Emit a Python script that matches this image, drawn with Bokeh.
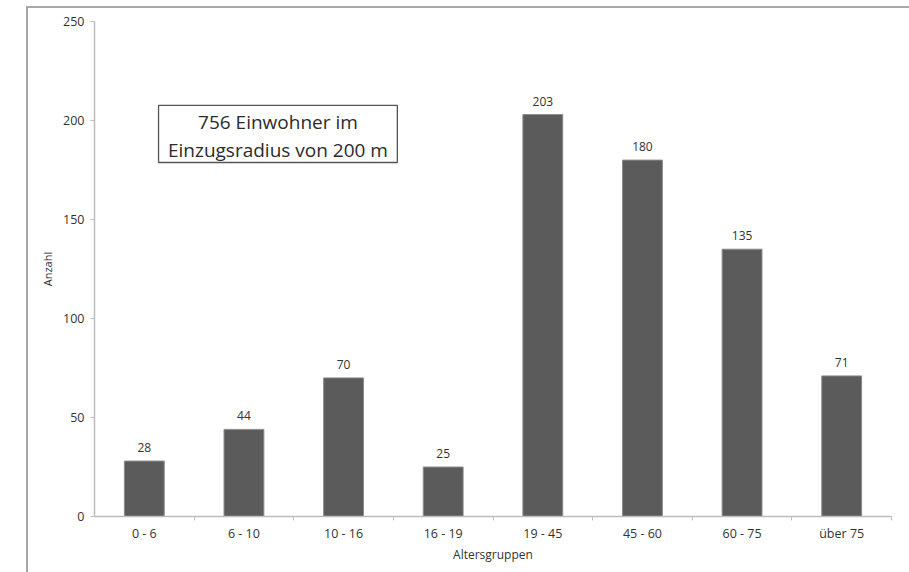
from bokeh.plotting import figure
from bokeh.models import (Range1d, FixedTicker, ColumnDataSource, BoxAnnotation, Label)
from bokeh.core.properties import value
from bokeh.embed import file_html
from bokeh.resources import INLINE

categories = ["0 - 6", "6 - 10", "10 - 16", "16 - 19", "19 - 45", "45 - 60", "60 - 75", "über 75"]
counts = [28, 44, 70, 25, 203, 180, 135, 71]
y_ticks = [0, 50, 100, 150, 200, 250]
x_label = "Altersgruppen"
y_label = "Anzahl"
note_lines = ["756 Einwohner im", "Einzugsradius von 200 m"]

FONT = "Open Sans"

xs = [i + 0.5 for i in range(len(categories))]
src = ColumnDataSource(dict(x=xs, top=counts, lab=[str(c) for c in counts]))

p = figure(width=909, height=572, output_backend="svg", toolbar_location=None,
           x_range=Range1d(0, len(categories)), y_range=Range1d(0, 250),
           min_border_left=94, min_border_right=18, min_border_top=21, min_border_bottom=56)
p.outline_line_color = None
p.xgrid.visible = False
p.ygrid.visible = False
p.background_fill_color = "white"
p.border_fill_color = None
p.styles = {
    "background-color": "white",
    "background-image": "linear-gradient(#a8a8a8, #a8a8a8), linear-gradient(#a8a8a8, #a8a8a8)",
    "background-position": "26px 6px, 26px 6px",
    "background-size": "2px 100%, 100% 2px",
    "background-repeat": "no-repeat, no-repeat",
}

p.vbar(x="x", top="top", width=0.4, bottom=0, source=src,
       fill_color="#5b5b5b", line_color="#8c8c8c", line_width=1)
p.text(x="x", y="top", text="lab", source=src, text_align="center", text_baseline="bottom",
       y_offset=-9, text_font=value(FONT), text_font_size="12px", text_color="#333333")

# axes
xa = p.xaxis[0]
xa.ticker = FixedTicker(ticks=xs, minor_ticks=list(range(1, len(categories) + 1)))
xa.major_label_overrides = {x: c for x, c in zip(xs, categories)}
xa.major_tick_out = 0
xa.major_tick_in = 0
xa.minor_tick_out = 4
xa.minor_tick_in = 0
xa.minor_tick_line_color = "#bdbdbd"
xa.axis_line_color = "#bdbdbd"
xa.axis_line_width = 1.5
xa.major_label_standoff = 4
xa.major_label_text_font = FONT
xa.major_label_text_font_size = "12.5px"
xa.major_label_text_color = "#333333"
xa.axis_label = x_label
xa.axis_label_text_font = FONT
xa.axis_label_text_font_size = "12px"
xa.axis_label_text_font_style = "normal"
xa.axis_label_text_color = "#333333"
xa.axis_label_standoff = 1

ya = p.yaxis[0]
ya.ticker = FixedTicker(ticks=y_ticks)
ya.minor_tick_line_color = None
ya.major_tick_out = 4
ya.major_tick_in = 0
ya.major_tick_line_color = "#bdbdbd"
ya.axis_line_color = "#bdbdbd"
ya.axis_line_width = 1.5
ya.major_label_standoff = 6
ya.major_label_text_font = FONT
ya.major_label_text_font_size = "12.5px"
ya.major_label_text_color = "#333333"
ya.axis_label = y_label
ya.axis_label_text_font = FONT
ya.axis_label_text_font_size = "11px"
ya.axis_label_text_font_style = "normal"
ya.axis_label_text_color = "#333333"
ya.axis_label_standoff = 5

# annotation box
p.add_layout(BoxAnnotation(left=0.643, right=3.04, bottom=178.8, top=207.6,
                           fill_color="white", fill_alpha=1.0,
                           line_color="#555555", line_alpha=1.0, line_width=1.3))
cx = (0.643 + 3.04) / 2
for txt, yy in zip(note_lines, [199.3, 184.9]):
    p.add_layout(Label(x=cx, y=yy, text=txt, text_align="center", text_baseline="middle",
                       text_font=FONT, text_font_size="19px", text_color="#2b2b2b"))

open("out.html", "w").write(file_html(p, INLINE))
